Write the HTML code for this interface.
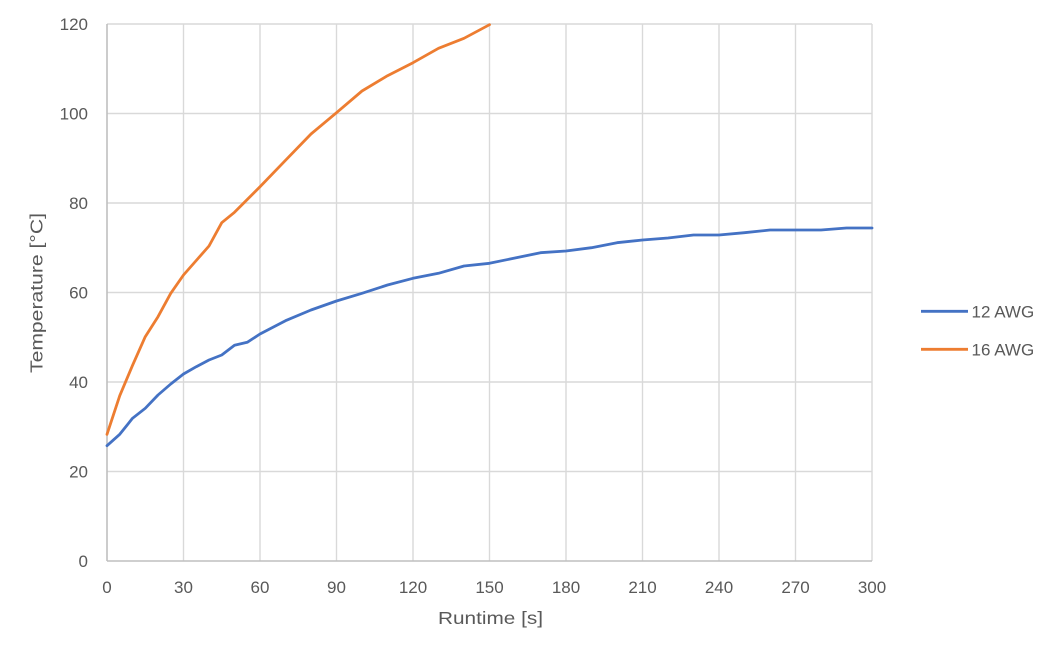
<!DOCTYPE html>
<html>
<head>
<meta charset="utf-8">
<style>
  html, body { margin: 0; padding: 0; background: #ffffff; }
  svg { display: block; }
  text { font-family: "Liberation Sans", sans-serif; fill: #595959; }
</style>
</head>
<body>
<svg width="1060" height="659" viewBox="0 0 1060 659" xmlns="http://www.w3.org/2000/svg">
  <rect x="0" y="0" width="1060" height="659" fill="#ffffff"/>
  <!-- horizontal gridlines -->
  <g stroke="#d9d9d9" stroke-width="1.4" fill="none">
    <line x1="107" y1="24" x2="872" y2="24"/>
    <line x1="107" y1="113.5" x2="872" y2="113.5"/>
    <line x1="107" y1="203" x2="872" y2="203"/>
    <line x1="107" y1="292.5" x2="872" y2="292.5"/>
    <line x1="107" y1="382" x2="872" y2="382"/>
    <line x1="107" y1="471.5" x2="872" y2="471.5"/>
    <!-- vertical gridlines -->
    <line x1="183.5" y1="24" x2="183.5" y2="561"/>
    <line x1="260" y1="24" x2="260" y2="561"/>
    <line x1="336.5" y1="24" x2="336.5" y2="561"/>
    <line x1="413" y1="24" x2="413" y2="561"/>
    <line x1="489.5" y1="24" x2="489.5" y2="561"/>
    <line x1="566" y1="24" x2="566" y2="561"/>
    <line x1="642.5" y1="24" x2="642.5" y2="561"/>
    <line x1="719" y1="24" x2="719" y2="561"/>
    <line x1="795.5" y1="24" x2="795.5" y2="561"/>
    <line x1="872" y1="24" x2="872" y2="561"/>
  </g>
  <!-- axes -->
  <g stroke="#bfbfbf" stroke-width="1.6" fill="none">
    <line x1="107" y1="24" x2="107" y2="561"/>
    <line x1="107" y1="561" x2="872" y2="561"/>
  </g>

  <!-- Y tick labels -->
  <g font-size="17" text-anchor="end">
    <text x="88" y="30">120</text>
    <text x="88" y="119.5">100</text>
    <text x="88" y="209">80</text>
    <text x="88" y="298.5">60</text>
    <text x="88" y="388">40</text>
    <text x="88" y="477.5">20</text>
    <text x="88" y="567">0</text>
  </g>
  <!-- X tick labels -->
  <g font-size="17" text-anchor="middle">
    <text x="107" y="593">0</text>
    <text x="183.5" y="593">30</text>
    <text x="260" y="593">60</text>
    <text x="336.5" y="593">90</text>
    <text x="413" y="593">120</text>
    <text x="489.5" y="593">150</text>
    <text x="566" y="593">180</text>
    <text x="642.5" y="593">210</text>
    <text x="719" y="593">240</text>
    <text x="795.5" y="593">270</text>
    <text x="872" y="593">300</text>
  </g>

  <!-- Axis titles -->
  <text x="438" y="624" font-size="17.5" textLength="105" lengthAdjust="spacingAndGlyphs">Runtime [s]</text>
  <text transform="translate(42.5,373) rotate(-90)" x="0" y="0" font-size="17.5" textLength="160" lengthAdjust="spacingAndGlyphs">Temperature [°C]</text>

  <!-- 12 AWG series -->
  <polyline fill="none" stroke="#4472C4" stroke-width="2.8" stroke-linejoin="round" stroke-linecap="round"
    points="107,445.7 119.75,434.3 132.5,418.3 145.25,408.3 158,395 170.75,384 183.5,374 196.25,366.7 209,360 221.75,355 234.5,345.3 247.25,342.3 260,334 285.5,320.7 311,310 336.5,301 362,293.3 387.5,285 413,278.3 438.5,273.3 464,266 489.5,263.3 515,258 540.5,252.7 566,251 591.5,247.7 617,242.7 642.5,240 668,238 693.5,235 719,235 744.5,232.7 770,230 795.5,230 821,230 846.5,228 872,228"/>

  <!-- 16 AWG series -->
  <polyline fill="none" stroke="#ED7D31" stroke-width="2.8" stroke-linejoin="round" stroke-linecap="round"
    points="107,434.3 119.75,395.7 132.5,365.4 145.25,336.7 158,316.7 170.75,293.3 183.5,275 196.25,260.5 209,246 221.75,222.7 234.5,212.3 247.25,199.5 260,186.7 285.5,160.3 311,134 336.5,112.7 362,91 387.5,75.7 413,62.7 438.5,48.3 464,38.3 489.5,24.7"/>

  <!-- Legend -->
  <line x1="921" y1="311.3" x2="968" y2="311.3" stroke="#4472C4" stroke-width="2.8"/>
  <text x="971.5" y="317.7" font-size="17">12 AWG</text>
  <line x1="921" y1="349.3" x2="968" y2="349.3" stroke="#ED7D31" stroke-width="2.8"/>
  <text x="971.5" y="355.5" font-size="17">16 AWG</text>
</svg>
</body>
</html>
